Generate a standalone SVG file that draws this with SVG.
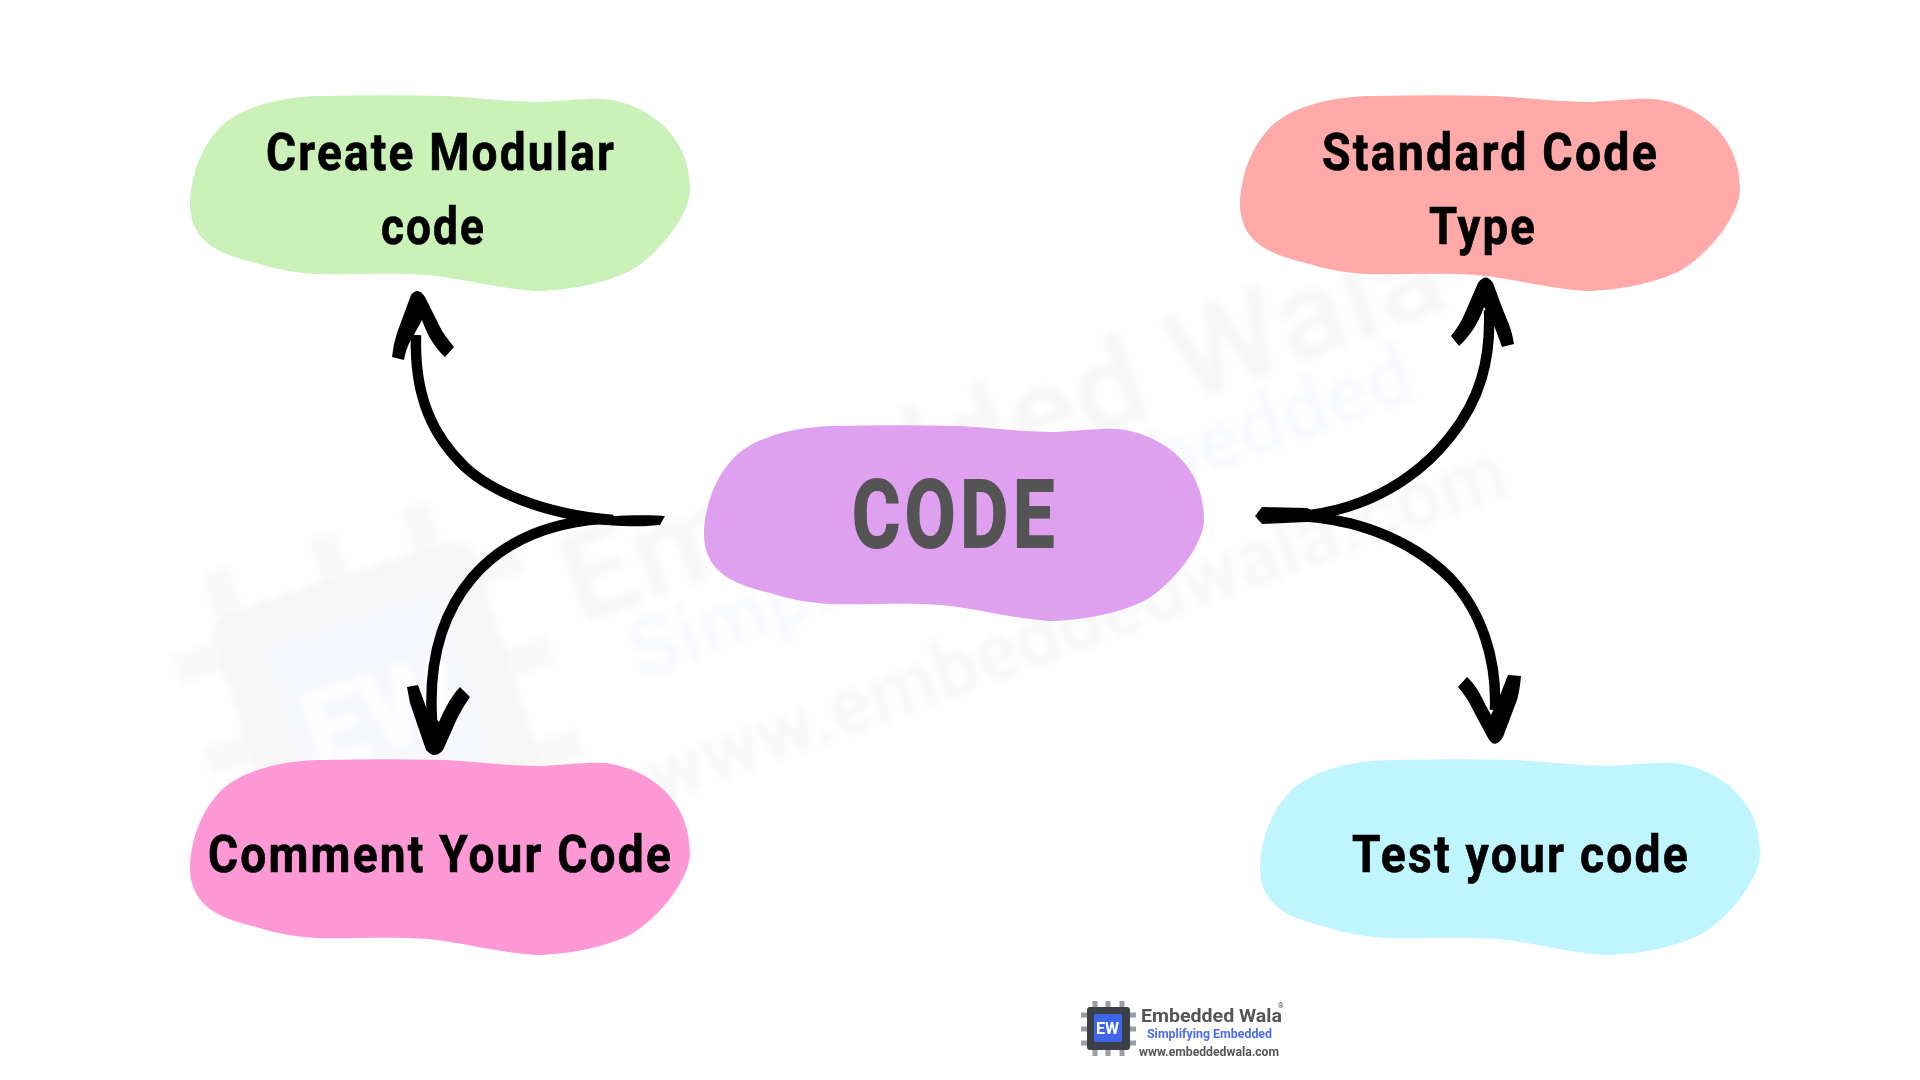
<svg xmlns="http://www.w3.org/2000/svg" width="1920" height="1080" viewBox="0 0 1920 1080">
<style>
.lbl{font-family:"Roboto","Liberation Sans",sans-serif;font-weight:700;font-size:52px;letter-spacing:2.5px;fill:#000;stroke:#000;stroke-width:.7px}
.big{font-family:"Roboto","Liberation Sans",sans-serif;font-weight:700;font-size:95px;letter-spacing:6px;fill:#545454;stroke:#545454;stroke-width:2px}
.wm{font-family:"Roboto","Liberation Sans",sans-serif;font-weight:700;fill-opacity:.8}
.line{fill:none;stroke:#000;stroke-width:10.5;stroke-linecap:butt}
.fillk{fill:#000}
.logo{font-family:"Roboto","Liberation Sans",sans-serif;font-weight:700}
</style>
<defs>
<path id="blob" d="M0 105C2 78 12 48 35 28C60 8 100 1 135 1C175 0 215 0 255 1C290 3 320 7 352 7C375 6 395 3 414 4C445 7 500 30 500 95C500 118 470 160 438 177C410 190 370 196 345 196C310 194 270 183 238 180C200 177 160 180 125 179C100 177 85 174 66 168C35 160 -2 150 0 105Z"/>
<filter id="b" x="-10%" y="-10%" width="120%" height="120%"><feGaussianBlur stdDeviation="3.5"/></filter>
</defs>
<rect width="1920" height="1080" fill="#fff"/>
<g id="watermark" filter="url(#b)" opacity="0.05">
<g transform="rotate(-18 207 620)">
<path d="M230 620V575M342 620V575M439 620V575M230 894V940M342 894V940M439 894V940M207 658H162M207 755H162M207 852H162M481 658H526M481 755H526M481 852H526" stroke="#3c4048" stroke-opacity=".6" stroke-width="30" fill="none"/>
<rect x="207" y="620" width="274" height="274" rx="22" fill="#3c4048"/>
<rect x="253" y="666" width="182" height="182" rx="10" fill="#3f66e8"/>
<text x="344" y="800" class="wm" font-size="110" fill="#fff" text-anchor="middle">EW</text>
</g>
<g transform="rotate(-20 700 560)">
<text x="564" y="580" class="wm" font-size="125" fill="#3c4048" textLength="930" lengthAdjust="spacingAndGlyphs">Embedded Wala</text>
<text x="602" y="653" class="wm" font-size="82" fill="#3f66e8" textLength="830" lengthAdjust="spacingAndGlyphs">Simplifying Embedded</text>
<text x="576" y="776" class="wm" font-size="82" fill="#3c4048" textLength="910" lengthAdjust="spacingAndGlyphs">www.embeddedwala.com</text>
</g>
</g>
<g id="connectors">
<path class="line" d="M613 520C540 514 490 490 465 467C435 438 414 400 416 335"/>
<path class="line" d="M600 519C540 524 500 545 472 578C445 610 428 655 432 720"/>
<path class="fillk" d="M575 520C600 516 640 514 665 516L660 525C640 527 620 527 575 522Z"/>
<path class="fillk" d="M392 357L404 360C406 350 408 345 411 340L422 320C427 335 435 348 445 357L454 347C447 338 443 333 440 327L425 297Q418 286 411 295L397 333Q393 345 392 357Z"/>
<path class="fillk" d="M407 687L418 685L426 707L439 722C445 708 452 695 460 687L470 697C462 708 456 720 452 730L443 750Q435 760 426 750L410 703Z"/>
<path class="line" d="M1300 516C1370 510 1420 475 1450 437C1480 400 1491 360 1489 310"/>
<path class="line" d="M1300 516C1370 520 1420 548 1450 578C1482 612 1497 660 1495 710"/>
<path class="fillk" d="M1255 516L1262 507L1307 508L1322 515L1307 522L1262 524Z"/>
<path class="fillk" d="M1451 336L1459 346C1467 339 1478 325 1484 307C1488 315 1492 322 1495 328L1502 347L1514 344C1512 330 1508 322 1503 310L1493 283Q1486 272 1478 283L1465 313Q1460 325 1451 336Z"/>
<path class="fillk" d="M1458 687L1467 677C1474 683 1480 693 1484 702L1491 715L1501 693C1504 685 1506 680 1508 675L1521 676C1520 687 1519 693 1517 700L1503 737Q1495 750 1488 738L1473 710Q1467 697 1458 687Z"/>
</g>
<g id="node-modular">
<use href="#blob" x="190" y="95" fill="#c9f1b8"/>
<text class="lbl" x="266" y="170" textLength="350" lengthAdjust="spacingAndGlyphs">Create Modular</text>
<text class="lbl" x="381" y="244" textLength="105" lengthAdjust="spacingAndGlyphs">code</text>
</g>
<g id="node-standard">
<use href="#blob" x="1240" y="95" fill="#ffa9a9"/>
<text class="lbl" x="1322" y="170" textLength="337" lengthAdjust="spacingAndGlyphs">Standard Code</text>
<text class="lbl" x="1429" y="244" textLength="108" lengthAdjust="spacingAndGlyphs">Type</text>
</g>
<g id="node-code">
<use href="#blob" x="704" y="425" fill="#dfa0f0"/>
<text class="big" x="852" y="547" textLength="207" lengthAdjust="spacingAndGlyphs">CODE</text>
</g>
<g id="node-comment">
<use href="#blob" x="190" y="759" fill="#ff99d6"/>
<text class="lbl" x="208" y="872" textLength="465" lengthAdjust="spacingAndGlyphs">Comment Your Code</text>
</g>
<g id="node-test">
<use href="#blob" x="1260" y="759" fill="#bef5ff"/>
<text class="lbl" x="1352" y="872" textLength="338" lengthAdjust="spacingAndGlyphs">Test your code</text>
</g>
<g id="logo">
<g stroke="#9a9da1" stroke-width="5"><path d="M1095 1001V1056M1108 1001V1056M1122 1001V1056M1081 1015H1136M1081 1029H1136M1081 1043H1136"/></g>
<rect x="1087" y="1007" width="43" height="43" rx="3" fill="#3c4048"/>
<rect x="1094" y="1014" width="28" height="28" rx="1" fill="#3f66e8"/>
<text class="logo" x="1096" y="1034" font-size="16" fill="#fff" textLength="23" lengthAdjust="spacingAndGlyphs">EW</text>
<text class="logo" x="1141" y="1022" font-size="19" fill="#555" textLength="141" lengthAdjust="spacingAndGlyphs">Embedded Wala</text>
<text class="logo" x="1147" y="1038" font-size="12.5" fill="#4a6cf0" textLength="125" lengthAdjust="spacingAndGlyphs">Simplifying Embedded</text>
<text class="logo" x="1139" y="1056" font-size="12" fill="#555" textLength="140" lengthAdjust="spacingAndGlyphs">www.embeddedwala.com</text>
<text class="logo" x="1278" y="1008" font-size="7" fill="#555">®</text>
</g>
</svg>
